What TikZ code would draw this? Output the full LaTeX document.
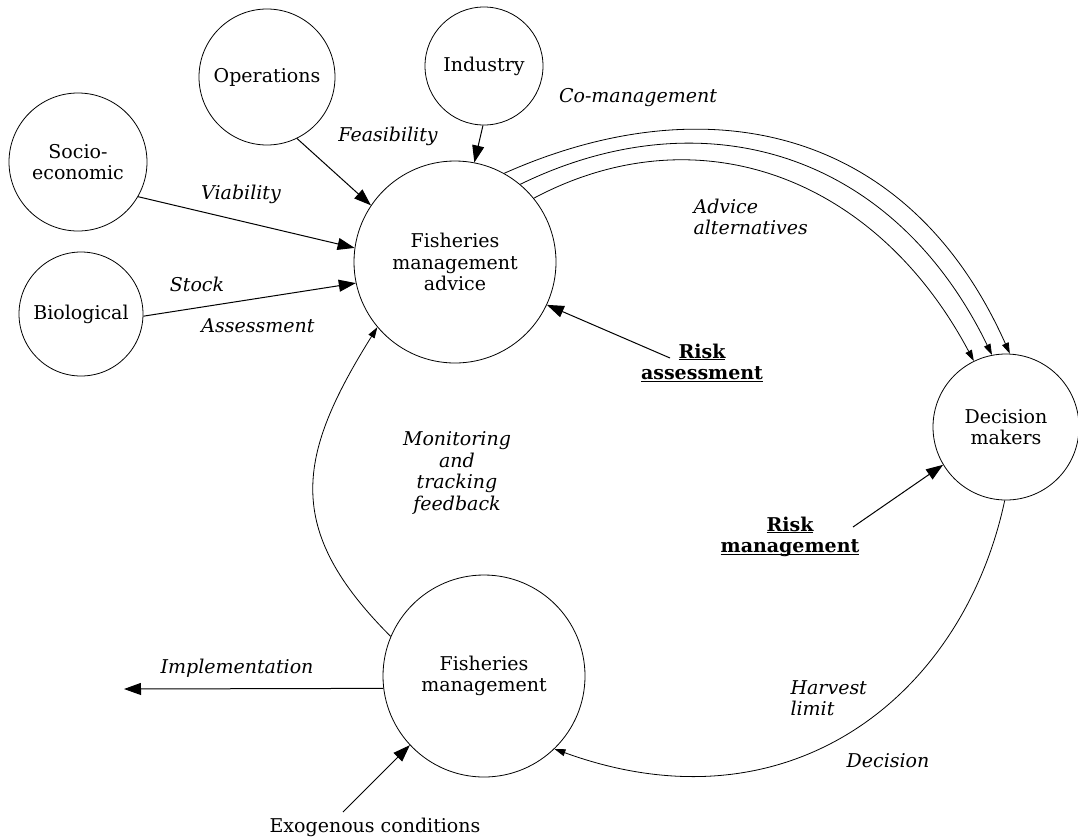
\documentclass[tikz,border=0pt]{standalone}
\usepackage{fontspec}
\setmainfont{DejaVu Serif}
\usetikzlibrary{arrows.meta}

\begin{document}
\begin{tikzpicture}[x=1pt, y=-1pt,
		every node/.style = {font=\fontsize{19}{21.5}\selectfont, align=center},
		circ/.style = {circle, draw, line width=0.8pt, inner sep=0pt},
		lbl/.style = {font=\fontsize{19}{21.5}\selectfont\itshape},
		risk/.style = {font=\fontsize{19}{21.5}\selectfont\bfseries},
		flow/.style = {line width=1pt, -{Triangle[length=17pt,width=12pt]}},
		feed/.style = {line width=0.8pt, -{Triangle[length=11pt,width=7pt]}}]
	\useasboundingbox (0,0) rectangle (1078,839);
	% circles
	\node[circ, minimum size=136pt] (ops) at (267,77) {Operations};
	\node[circ, minimum size=118pt] (ind) at (484,66) {Industry};
	\node[circ, minimum size=138pt] (soc) at (78,162) {Socio-\\economic};
	\node[circ, minimum size=124pt] (bio) at (81,314) {Biological};
	\node[circ, minimum size=202pt] (fma) at (455,262) {Fisheries\\management\\advice};
	\node[circ, minimum size=146pt] (dm) at (1006,427) {Decision\\makers};
	\node[circ, minimum size=202pt] (fm) at (484,676) {Fisheries\\management};
	% labels
	\node[lbl] (feas) at (388,136) {Feasibility};
	\node[lbl] (viab) at (241,194) {Viability};
	\node[lbl] (stock) at (197,284) {Stock};
	\node[lbl] (assm) at (258,326) {Assessment};
	\node[lbl] (coman) at (638,98) {Co-management};
	\node[lbl, align=left, anchor=west] (adv) at (690,217) {Advice\\alternatives};
	\node[lbl] (mon) at (457,473) {Monitoring\\and\\tracking\\feedback};
	\node[lbl] (impl) at (237,668) {Implementation};
	\node[lbl, align=left, anchor=west] (harv) at (787,698) {Harvest\\limit};
	\node[lbl] (dec) at (888,761) {Decision};
	\node[risk] (ra) at (702,370) {\underline{\smash{Risk}}\\\underline{\smash{assessment}}};
	\node[risk] (rm) at (790,543) {\underline{\smash{Risk}}\\\underline{\smash{management}}};
	\node (exo) at (375,827) {Exogenous conditions};
	\coordinate (rafoot) at (670,358);
	\coordinate (rmfoot) at (853,527);
	\coordinate (exofoot) at (343,812);
	\coordinate (impend) at (124,689);
	% straight arrows
	\draw[flow] (ops.-64) -- (fma.146);
	\draw[flow] (ind.-91) -- (fma.79);
	\draw[flow] (soc.-30) -- (fma.172);
	\draw[flow] (bio.-2) -- (fma.-168);
	\draw[flow] (rafoot) -- (fma.-25);
	\draw[flow] (rmfoot) -- (dm.211);
	\draw[flow] (exofoot) -- (fm.-137);
	\draw[flow] (fm.187) -- (impend);
	% curved arrows
	\draw[feed] (fma.61) .. controls +(24:220pt) and +(114:250pt) .. (dm.87);
	\draw[feed] (fma.50) .. controls +(26:200pt) and +(116:230pt) .. (dm.101);
	\draw[feed] (fma.39) .. controls +(28:185pt) and +(118:210pt) .. (dm.116);
	\draw[feed] (fm.157) .. controls +(135:152pt) and +(238:152pt) .. (fma.-140);
	\draw[feed] (dm.-91) .. controls +(-102:200pt) and +(-20:250pt) .. (fm.-46);
\end{tikzpicture}
\end{document}
